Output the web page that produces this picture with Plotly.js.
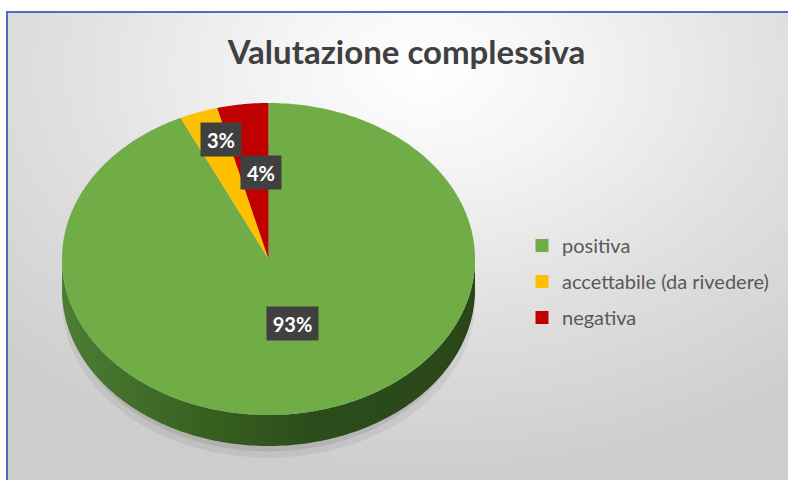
<!DOCTYPE html>
<html><head><meta charset="utf-8">
<script src="https://cdn.plot.ly/plotly-3.0.1.min.js"></script>
<style>
html,body{margin:0;padding:0;background:#fff;width:788px;height:480px;overflow:hidden}
#frame{position:absolute;left:6px;top:11px;width:800px;height:480px;border-left:2px solid #4472C4;border-top:2px solid #4472C4;
background:radial-gradient(ellipse 75% 85% at 52% 12%, #ffffff 0%, #f4f4f4 25%, #e0e0e0 60%, #cdcdcd 100%);}
#chart{position:absolute;left:0;top:0;width:788px;height:480px}
</style></head><body>
<div id="frame"></div><div id="chart"></div>
<script>
// ---- data ----
const categories = ['positiva', 'accettabile (da rivedere)', 'negativa'];
const values = [93, 3, 4];
const percentLabels = ['93%', '3%', '4%'];
const sliceColors = ['#70AD47', '#FFC000', '#C00000'];
const chartTitle = 'Valutazione complessiva';

// ---- layout geometry (pixels) ----
const W = 788, H = 480;
const CX = 268.5, CY = 259, RX = 206.5, RY = 156, DEPTH = 31;
const labelRadius = [0.45, 0.78, 0.55];
const labelShiftX = [4, 7, 7];
const labelShiftY = [4, 5, 1];
const labelBoxW = [43, 32, 32];

const total = values.reduce((a, b) => a + b, 0);
const toAng = f => (90 - 360 * f) * Math.PI / 180; // start at 12 o'clock, clockwise

const traces = [];
const dy = DEPTH / RY;

// soft shadow under the pie
function ellipsePts(sx, sy, oy) {
  const xs = [], ys = [];
  for (let a = 0; a <= 360; a += 2) {
    const r = a * Math.PI / 180;
    xs.push(sx * Math.cos(r)); ys.push(sy * Math.sin(r) + oy);
  }
  return {xs, ys};
}
[[1.0, 1.0, -dy - 0.075, 'rgba(0,0,0,0.06)'], [0.98, 0.99, -dy - 0.045, 'rgba(0,0,0,0.08)']].forEach(s => {
  const p = ellipsePts(s[0], s[1], s[2]);
  traces.push({type: 'scatter', x: p.xs, y: p.ys, mode: 'none', fill: 'toself', fillcolor: s[3], hoverinfo: 'skip', showlegend: false});
});

// 3D rim (front side)
(function () {
  const xs = [], ys = [];
  for (let a = 180; a <= 360; a += 1) { const r = a * Math.PI / 180; xs.push(Math.cos(r)); ys.push(Math.sin(r)); }
  for (let a = 360; a >= 180; a -= 1) { const r = a * Math.PI / 180; xs.push(Math.cos(r)); ys.push(Math.sin(r) - dy); }
  traces.push({type: 'scatter', x: xs, y: ys, mode: 'none', fill: 'toself', showlegend: false, hoverinfo: 'skip',
    fillgradient: {type: 'horizontal', colorscale: [[0, '#4d7d33'], [0.35, '#37601f'], [0.6, '#2c4d1b'], [1, '#2a4619']]}});
})();

// slices (top face)
const annotations = [];
let cum = 0;
values.forEach((v, i) => {
  const f0 = cum / total, f1 = (cum + v) / total;
  const n = Math.max(2, Math.ceil((f1 - f0) * 360));
  const xs = [0], ys = [0];
  for (let k = 0; k <= n; k++) {
    const a = toAng(f0 + (f1 - f0) * k / n);
    xs.push(Math.cos(a)); ys.push(Math.sin(a));
  }
  xs.push(0); ys.push(0);
  traces.push({type: 'scatter', x: xs, y: ys, mode: 'none', fill: 'toself', fillcolor: sliceColors[i],
    name: categories[i], showlegend: false, hoverinfo: 'text', text: categories[i] + ': ' + percentLabels[i]});
  const am = toAng((f0 + f1) / 2);
  annotations.push({x: labelRadius[i] * Math.cos(am), y: labelRadius[i] * Math.sin(am), xref: 'x', yref: 'y',
    xshift: labelShiftX[i], yshift: labelShiftY[i],
    text: '<b>' + percentLabels[i] + '</b>', showarrow: false, bgcolor: '#404040', borderpad: 4,
    width: labelBoxW[i], height: 25,
    font: {family: 'Lato, sans-serif', size: 20, color: '#ffffff'}});
  cum += v;
});

// legend entries
categories.forEach((c, i) => {
  traces.push({type: 'scatter', x: [null], y: [null], mode: 'markers', name: c, legendgroup: 'g' + i,
    marker: {symbol: 'square', size: 13, color: sliceColors[i]}, showlegend: true});
});

const layout = {
  width: W, height: H, margin: {l: 0, r: 0, t: 0, b: 0},
  paper_bgcolor: 'rgba(0,0,0,0)', plot_bgcolor: 'rgba(0,0,0,0)',
  xaxis: {range: [-CX / RX, (W - CX) / RX], visible: false, fixedrange: true},
  yaxis: {range: [-(H - CY) / RY, CY / RY], visible: false, fixedrange: true},
  title: {text: chartTitle, x: 406.5 / W, xanchor: 'center', y: 1 - 52 / H, yanchor: 'middle',
    font: {family: 'Lato, sans-serif', size: 33, color: '#404040', weight: 'bold'}},
  legend: {x: 522 / W, xanchor: 'left', y: 1 - 226 / H, yanchor: 'top', tracegroupgap: 7,
    bgcolor: 'rgba(0,0,0,0)', font: {family: 'Lato, sans-serif', size: 20, color: '#595959'}},
  annotations: annotations,
  showlegend: true
};
Plotly.newPlot('chart', traces, layout, {displayModeBar: false, staticPlot: true});
</script>
</body></html>
